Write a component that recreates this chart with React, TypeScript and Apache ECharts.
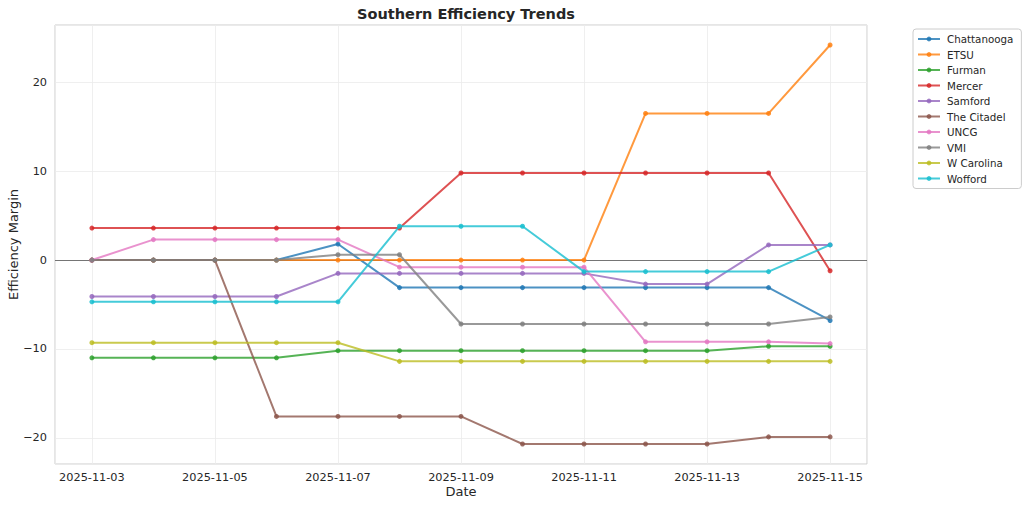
import React, { useEffect, useRef } from "react";
import * as echarts from "echarts";

const dates = [
  "2025-11-03", "2025-11-04", "2025-11-05", "2025-11-06", "2025-11-07",
  "2025-11-08", "2025-11-09", "2025-11-10", "2025-11-11", "2025-11-12",
  "2025-11-13", "2025-11-14", "2025-11-15",
];

const teams = [
  "Chattanooga", "ETSU", "Furman", "Mercer", "Samford",
  "The Citadel", "UNCG", "VMI", "W Carolina", "Wofford",
];

const chattanooga = [0, 0, 0, 0, 1.8, -3.1, -3.1, -3.1, -3.1, -3.1, -3.1, -3.1, -6.8];
const etsu = [0, 0, 0, 0, 0, 0, 0, 0, 0, 16.5, 16.5, 16.5, 24.2];
const furman = [-11.0, -11.0, -11.0, -11.0, -10.2, -10.2, -10.2, -10.2, -10.2, -10.2, -10.2, -9.7, -9.7];
const mercer = [3.6, 3.6, 3.6, 3.6, 3.6, 3.6, 9.8, 9.8, 9.8, 9.8, 9.8, 9.8, -1.2];
const samford = [-4.1, -4.1, -4.1, -4.1, -1.5, -1.5, -1.5, -1.5, -1.5, -2.7, -2.7, 1.7, 1.7];
const citadel = [0, 0, 0, -17.6, -17.6, -17.6, -17.6, -20.7, -20.7, -20.7, -20.7, -19.9, -19.9];
const uncg = [0, 2.3, 2.3, 2.3, 2.3, -0.8, -0.8, -0.8, -0.8, -9.2, -9.2, -9.2, -9.4];
const vmi = [0, 0, 0, 0, 0.6, 0.6, -7.2, -7.2, -7.2, -7.2, -7.2, -7.2, -6.4];
const wCarolina = [-9.3, -9.3, -9.3, -9.3, -9.3, -11.4, -11.4, -11.4, -11.4, -11.4, -11.4, -11.4, -11.4];
const wofford = [-4.7, -4.7, -4.7, -4.7, -4.7, 3.8, 3.8, 3.8, -1.3, -1.3, -1.3, -1.3, 1.7];

const seriesValues = [chattanooga, etsu, furman, mercer, samford, citadel, uncg, vmi, wCarolina, wofford];

const colors = [
  "#1f77b4", "#ff7f0e", "#2ca02c", "#d62728", "#9467bd",
  "#8c564b", "#e377c2", "#7f7f7f", "#bcbd22", "#17becf",
];

const FONT = "DejaVu Sans";

export default function App() {
  const ref = useRef<HTMLDivElement>(null);

  useEffect(() => {
    if (!ref.current) return;
    const chart = echarts.init(ref.current, undefined, { renderer: "svg" });

    const series: any[] = teams.map((name, i) => ({
      name,
      type: "line",
      data: seriesValues[i].map((v, j) => [j, v]),
      symbol: "circle",
      symbolSize: 5,
      showSymbol: true,
      lineStyle: { width: 2, color: colors[i], opacity: 0.8 },
      itemStyle: { color: colors[i], opacity: 0.85 },
      z: 3 + i,
      emphasis: { disabled: true },
    }));
    series[0].markLine = {
      silent: true,
      symbol: ["none", "none"],
      label: { show: false },
      lineStyle: { color: "#444", width: 0.8, type: "solid", opacity: 0.9 },
      data: [{ yAxis: 0 }],
      z: 2,
    };

    const minusFmt = (v: number) => (v < 0 ? "\u2212" + Math.abs(v) : String(v));

    chart.setOption({
      animation: false,
      backgroundColor: "#ffffff",
      color: colors,
      title: {
        text: "Southern Efficiency Trends",
        left: 461,
        top: 1,
        textAlign: "center",
        textStyle: { fontFamily: FONT, fontSize: 14.5, fontWeight: "bold", color: "#262626" },
      },
      legend: {
        orient: "vertical",
        left: 913,
        top: 29,
        padding: [5, 8, 5, 4],
        itemWidth: 22,
        itemHeight: 6,
        itemGap: 5.5,
        borderColor: "#cccccc",
        borderWidth: 1,
        borderRadius: 3,
        data: teams,
        textStyle: { fontFamily: FONT, fontSize: 10.3, color: "#262626", padding: [0, 0, 0, 2] },
      },
      grid: {
        left: 55, right: 157, top: 25, bottom: 42,
        containLabel: false, outerBoundsMode: "none",
        show: true, borderColor: "#cccccc", borderWidth: 1,
      },
      xAxis: {
        type: "value",
        min: -0.6,
        max: 12.6,
        splitNumber: 7,
        minInterval: 2,
        maxInterval: 2,
        name: "Date",
        nameLocation: "middle",
        nameMoveOverlap: false,
        nameGap: 21,
        nameTextStyle: { fontFamily: FONT, fontSize: 13, color: "#262626" },
        axisLine: { show: false },
        axisTick: { show: false },
        axisLabel: {
          fontFamily: FONT,
          fontSize: 11.3,
          color: "#262626",
          margin: 8,
          showMinLabel: false,
          showMaxLabel: false,
          formatter: (v: number) => {
            const r = Math.round(v);
            return Math.abs(v - r) < 1e-6 && dates[r] ? dates[r] : "";
          },
        },
        splitLine: { show: true, lineStyle: { color: "#ebebeb", width: 0.8 } },
      },
      yAxis: {
        type: "value",
        min: -22.95,
        max: 26.45,
        splitNumber: 5,
        minInterval: 10,
        maxInterval: 10,
        name: "Efficiency Margin",
        nameLocation: "middle",
        nameMoveOverlap: false,
        nameGap: 35,
        nameRotate: 90,
        nameTextStyle: { fontFamily: FONT, fontSize: 13, color: "#262626" },
        axisLine: { show: false },
        axisTick: { show: false },
        axisLabel: {
          fontFamily: FONT,
          fontSize: 11.3,
          color: "#262626",
          margin: 8,
          showMinLabel: false,
          showMaxLabel: false,
          formatter: (v: number) => (Math.abs(v % 10) < 1e-6 ? minusFmt(v) : ""),
        },
        splitLine: { show: true, lineStyle: { color: "#ebebeb", width: 0.8 } },
      },
      series,
    });

    return () => chart.dispose();
  }, []);

  return (
    <div
      ref={ref}
      style={{ position: "fixed", left: 0, top: 0, width: 1024, height: 506, background: "#fff" }}
    />
  );
}
